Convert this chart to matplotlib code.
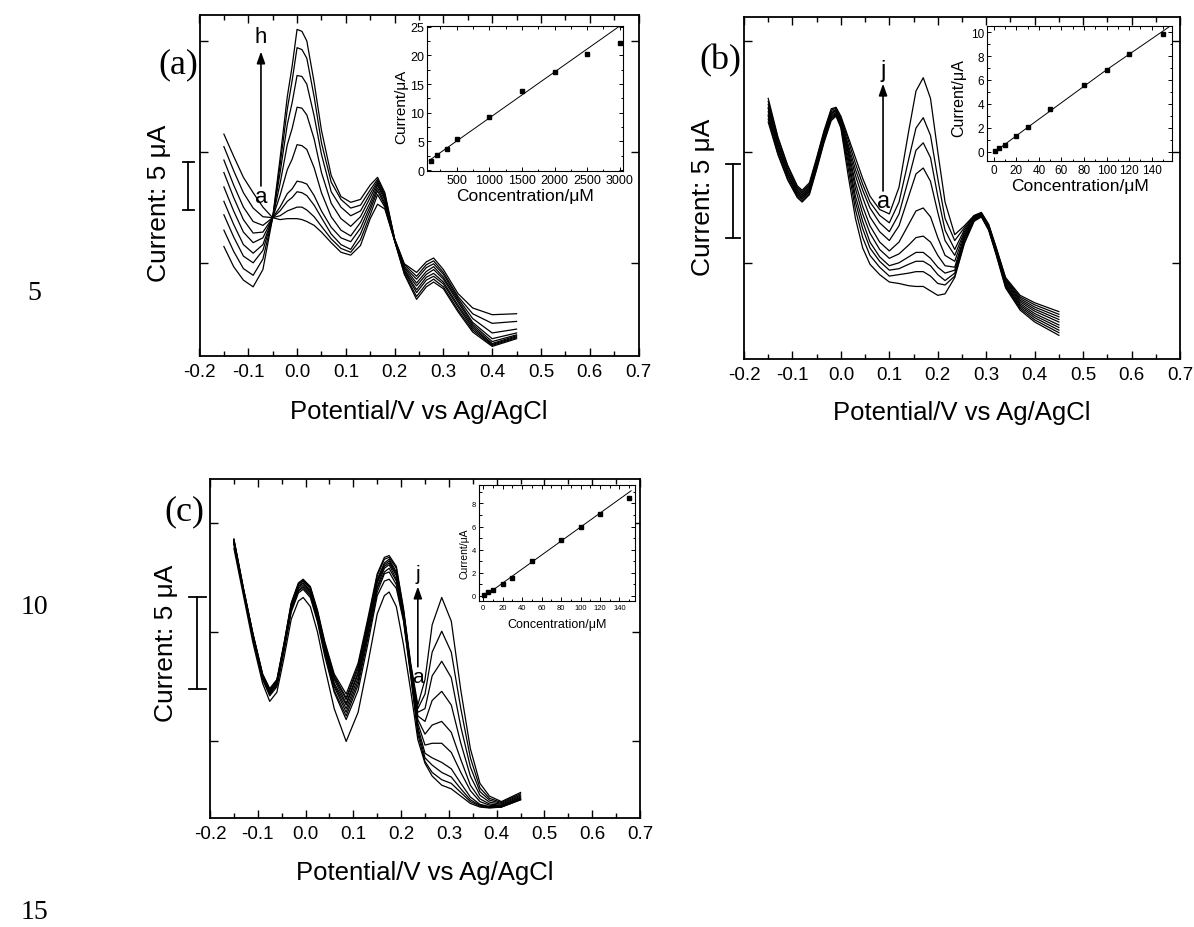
import numpy as np
import matplotlib.pyplot as plt
from matplotlib.ticker import MultipleLocator
from matplotlib.transforms import blended_transform_factory

plt.rcParams['font.family'] = ['Liberation Sans', 'DejaVu Sans']
plt.rcParams['axes.unicode_minus'] = False

W, H = 1194, 928

# ---------------- panel (a): DPV curves, current in uA ----------------
pot_a = [-0.15, -0.13, -0.11, -0.09, -0.07, -0.05, -0.035, -0.02, -0.01, 0.0, 0.01,
         0.02, 0.035, 0.05, 0.07, 0.09, 0.11, 0.13, 0.15, 0.165, 0.18,
         0.20, 0.22, 0.245, 0.265, 0.28, 0.30, 0.33, 0.36, 0.40, 0.45]
cur_a = [
    [23.1, 20.8, 18.6, 17.0, 15.5, 14.4, 14.2, 14.3, 14.3, 14.3, 14.2, 14.0, 13.6, 12.9, 11.8, 10.8,
     10.5, 11.5, 14.3, 15.8, 15.3, 12.0, 8.5, 5.9, 7.2, 7.7, 7.0, 4.6, 2.5, 1.0, 1.8],
    [21.8, 19.3, 17.0, 15.4, 14.5, 14.4, 14.6, 15.1, 15.3, 15.5, 15.5, 15.2, 14.5, 13.5, 12.2, 11.2,
     10.8, 12.1, 14.7, 16.8, 15.5, 12.0, 8.6, 6.2, 7.5, 8.0, 7.2, 4.8, 2.7, 1.1, 1.9],
    [20.4, 17.8, 15.5, 14.0, 13.6, 14.4, 15.1, 16.1, 16.5, 17.1, 17.0, 16.7, 15.7, 14.4, 12.7, 11.6,
     11.1, 12.7, 15.2, 17.2, 15.7, 12.0, 8.8, 6.6, 7.9, 8.3, 7.5, 5.1, 2.9, 1.2, 2.0],
    [19.1, 16.5, 14.2, 12.8, 12.9, 14.4, 15.5, 16.9, 17.4, 18.2, 18.1, 17.9, 16.7, 15.1, 13.4, 12.3,
     11.9, 13.3, 15.6, 17.5, 15.9, 12.1, 8.9, 6.9, 8.2, 8.6, 7.7, 5.3, 3.1, 1.3, 2.1],
    [17.6, 15.1, 12.9, 11.8, 12.3, 14.4, 16.7, 19.4, 20.5, 22.0, 21.9, 21.5, 19.6, 17.0, 14.5, 13.1,
     12.5, 13.9, 16.0, 17.8, 16.2, 12.1, 9.0, 7.3, 8.5, 9.0, 8.0, 5.6, 3.3, 1.5, 2.2],
    [16.1, 13.7, 11.6, 10.7, 11.6, 14.4, 17.9, 22.0, 23.7, 25.9, 25.8, 25.1, 22.6, 19.1, 15.9, 14.3,
     13.5, 14.5, 16.5, 18.0, 16.4, 12.1, 9.2, 7.6, 8.8, 9.3, 8.2, 5.8, 3.5, 1.8, 2.4],
    [14.7, 12.4, 10.4, 9.7, 11.0, 14.4, 19.0, 24.1, 26.4, 29.2, 29.1, 28.3, 25.0, 21.0, 17.1, 15.5,
     14.6, 15.1, 16.9, 18.2, 16.6, 12.1, 9.3, 8.0, 9.2, 9.6, 8.5, 6.0, 3.9, 2.4, 2.8],
    [13.1, 10.9, 9.1, 8.4, 10.1, 14.4, 19.8, 25.7, 28.7, 32.1, 31.9, 31.0, 27.0, 22.2, 18.1, 16.3,
     15.4, 15.7, 17.3, 18.4, 16.8, 12.2, 9.5, 8.3, 9.5, 9.9, 8.7, 6.2, 4.4, 3.4, 3.6],
    [11.4, 9.3, 7.9, 7.2, 9.0, 14.4, 20.5, 27.0, 30.2, 34.0, 33.8, 32.8, 28.5, 23.5, 18.8, 16.6,
     16.0, 16.3, 17.8, 18.6, 17.0, 12.2, 9.6, 8.7, 9.8, 10.2, 9.0, 6.5, 5.0, 4.3, 4.4],
]
conc_a = [100, 200, 350, 500, 1000, 1500, 2000, 2500, 3000]
ip_a = [1.6, 2.6, 3.6, 5.5, 9.3, 13.7, 17.1, 20.2, 22.1]
fit_a_x = [80, 3050]
fit_a_y = [1.7, 25.5]

# ---------------- panel (b) ----------------
pot_b = [-0.15, -0.13, -0.11, -0.09, -0.08, -0.065, -0.05, -0.035, -0.02, -0.01,
         0.0, 0.015, 0.03, 0.045, 0.06, 0.08, 0.10, 0.12, 0.14, 0.155,
         0.17, 0.185, 0.20, 0.215, 0.235, 0.255, 0.275, 0.29, 0.305, 0.32,
         0.34, 0.37, 0.40, 0.45]
cur_b = [
    [16.0, 13.8, 12.1, 10.9, 10.6, 11.1, 12.8, 14.6, 16.1, 16.4, 15.6, 12.4, 9.5, 7.5, 6.4, 5.7, 5.2,
     5.1, 4.95, 4.9, 4.9, 4.6, 4.3, 4.4, 5.5, 7.8, 9.3, 9.6, 8.7, 7.1, 4.8, 3.3, 2.5, 1.6],
    [16.2, 13.9, 12.2, 11.0, 10.7, 11.2, 12.9, 14.7, 16.2, 16.5, 15.7, 12.9, 10.1, 8.2, 7.0, 6.2, 5.6,
     5.7, 5.8, 5.9, 5.9, 5.6, 5.1, 5.0, 5.6, 7.9, 9.35, 9.63, 8.74, 7.16, 4.88, 3.41, 2.64, 1.78],
    [16.4, 14.1, 12.4, 11.1, 10.8, 11.3, 13.0, 14.8, 16.3, 16.5, 15.8, 13.3, 10.6, 8.8, 7.5, 6.6, 6.0,
     6.1, 6.4, 6.6, 6.6, 6.3, 5.7, 5.3, 5.8, 8.06, 9.39, 9.67, 8.79, 7.21, 4.95, 3.52, 2.79, 1.95],
    [16.5, 14.2, 12.4, 11.15, 10.85, 11.35, 13.05, 14.85, 16.35, 16.6, 15.9, 13.6, 11.0, 9.3, 7.9, 6.9, 6.3,
     6.5, 6.9, 7.2, 7.2, 6.8, 6.2, 5.8, 6.0, 8.2, 9.43, 9.7, 8.83, 7.27, 5.03, 3.63, 2.93, 2.13],
    [16.7, 14.3, 12.5, 11.25, 10.95, 11.45, 13.15, 14.95, 16.45, 16.65, 16.0, 13.9, 11.5, 9.8, 8.5, 7.4, 6.8,
     7.1, 7.7, 8.2, 8.3, 7.9, 7.0, 6.3, 6.2, 8.33, 9.48, 9.73, 8.88, 7.32, 5.11, 3.74, 3.07, 2.3],
    [16.9, 14.5, 12.7, 11.35, 11.05, 11.55, 13.25, 15.05, 16.55, 16.75, 16.0, 14.1, 11.9, 10.3, 9.0, 7.9, 7.3,
     7.9, 9.1, 10.0, 10.2, 9.6, 8.2, 7.0, 6.6, 8.47, 9.52, 9.77, 8.92, 7.38, 5.19, 3.86, 3.23, 2.5],
    [17.0, 14.6, 12.7, 11.4, 11.1, 11.6, 13.3, 15.1, 16.6, 16.8, 16.1, 14.3, 12.4, 10.9, 9.6, 8.6, 8.0,
     9.0, 11.0, 12.5, 12.9, 12.0, 9.9, 8.0, 7.0, 8.6, 9.57, 9.8, 8.97, 7.44, 5.27, 3.97, 3.37, 2.67],
    [17.2, 14.7, 12.8, 11.5, 11.2, 11.7, 13.4, 15.2, 16.7, 16.85, 16.2, 14.5, 12.8, 11.4, 10.2, 9.2, 8.6,
     9.8, 12.2, 14.1, 14.6, 13.6, 11.0, 8.7, 7.4, 8.74, 9.61, 9.83, 9.01, 7.49, 5.35, 4.08, 3.51, 2.85],
    [17.4, 14.9, 13.0, 11.6, 11.3, 11.8, 13.5, 15.3, 16.8, 16.95, 16.3, 14.8, 13.2, 11.8, 10.6, 9.7, 9.2,
     10.6, 13.5, 15.6, 16.3, 15.1, 12.2, 9.5, 8.0, 8.87, 9.66, 9.87, 9.06, 7.55, 5.42, 4.19, 3.66, 3.02],
    [17.6, 15.0, 13.1, 11.7, 11.4, 11.9, 13.6, 15.4, 16.9, 17.0, 16.4, 15.0, 13.6, 12.2, 11.0, 10.1, 9.8,
     11.6, 15.4, 18.1, 19.0, 17.6, 14.0, 10.6, 8.4, 9.0, 9.7, 9.9, 9.1, 7.6, 5.5, 4.3, 3.8, 3.2],
]
conc_b = [1, 5, 10, 20, 30, 50, 80, 100, 120, 150]
ip_b = [0.1, 0.3, 0.6, 1.3, 2.1, 3.6, 5.6, 6.8, 8.2, 9.8]
fit_b_x = [0, 30, 65, 100, 155]
fit_b_y = [-0.05, 2.05, 4.45, 6.85, 10.4]

# ---------------- panel (c) ----------------
pot_c = [-0.15, -0.13, -0.11, -0.09, -0.075, -0.06, -0.045, -0.03, -0.015, -0.005,
         0.01, 0.025, 0.04, 0.06, 0.085, 0.11, 0.13, 0.15, 0.165, 0.175,
         0.19, 0.205, 0.22, 0.235, 0.25, 0.265, 0.285, 0.305, 0.325, 0.345,
         0.365, 0.385, 0.41, 0.45]
cur_c = [
    [14.8, 12.2, 9.6, 7.4, 6.4, 6.9, 8.8, 10.9, 11.9, 12.1, 11.6, 10.2, 8.3, 6.0, 4.2, 5.8, 8.4,
     11.2, 12.2, 12.4, 11.6, 9.5, 7.0, 4.3, 3.0, 2.3, 1.8, 1.6, 1.2, 0.8, 0.6, 0.55, 0.6, 1.0],
    [15.0, 12.4, 9.8, 7.6, 6.7, 7.2, 9.2, 11.3, 12.35, 12.55, 12.1, 10.75, 8.9, 6.9, 5.4, 7.0, 9.5,
     12.2, 13.0, 13.1, 12.6, 10.8, 7.8, 4.6, 3.1, 2.5, 2.1, 1.9, 1.4, 0.9, 0.65, 0.57, 0.6, 1.0],
    [15.1, 12.4, 9.9, 7.7, 6.8, 7.3, 9.2, 11.4, 12.45, 12.65, 12.2, 10.9, 9.1, 7.0, 5.6, 7.3, 9.8,
     12.4, 13.4, 13.5, 12.8, 10.9, 7.9, 4.8, 3.3, 2.9, 2.5, 2.25, 1.6, 1.0, 0.7, 0.6, 0.62, 1.03],
    [15.1, 12.45, 9.9, 7.7, 6.8, 7.3, 9.3, 11.5, 12.5, 12.7, 12.3, 10.9, 9.2, 7.2, 5.8, 7.5, 10.0,
     12.6, 13.5, 13.7, 13.0, 11.0, 8.0, 5.0, 3.55, 3.3, 3.05, 2.7, 1.9, 1.15, 0.75, 0.63, 0.64, 1.05],
    [15.15, 12.5, 9.95, 7.75, 6.9, 7.4, 9.4, 11.5, 12.6, 12.8, 12.4, 11.0, 9.3, 7.3, 6.0, 7.7, 10.2,
     12.7, 13.7, 13.9, 13.1, 11.1, 8.1, 5.2, 4.0, 4.1, 4.1, 3.6, 2.5, 1.5, 0.9, 0.7, 0.67, 1.1],
    [15.2, 12.5, 10.0, 7.8, 6.9, 7.4, 9.4, 11.6, 12.7, 12.9, 12.4, 11.1, 9.4, 7.4, 6.2, 7.9, 10.3,
     12.9, 13.8, 14.0, 13.3, 11.2, 8.2, 5.4, 4.6, 5.1, 5.3, 4.7, 3.2, 1.8, 1.05, 0.77, 0.7, 1.14],
    [15.2, 12.5, 10.0, 7.8, 7.0, 7.5, 9.5, 11.6, 12.7, 12.9, 12.5, 11.2, 9.5, 7.6, 6.3, 8.0, 10.5,
     13.0, 13.9, 14.1, 13.4, 11.3, 8.3, 5.6, 5.3, 6.45, 6.95, 6.2, 4.1, 2.3, 1.25, 0.87, 0.75, 1.2],
    [15.25, 12.55, 10.05, 7.85, 7.0, 7.5, 9.5, 11.7, 12.8, 13.0, 12.6, 11.3, 9.5, 7.7, 6.5, 8.2, 10.6,
     13.1, 14.0, 14.2, 13.5, 11.3, 8.3, 5.8, 6.0, 7.8, 8.6, 7.7, 5.0, 2.8, 1.45, 0.98, 0.8, 1.26],
    [15.3, 12.6, 10.1, 7.9, 7.05, 7.55, 9.55, 11.75, 12.85, 13.05, 12.65, 11.3, 9.6, 7.8, 6.6, 8.35, 10.75,
     13.3, 14.2, 14.3, 13.7, 11.4, 8.4, 6.0, 6.8, 9.1, 10.25, 9.1, 6.0, 3.3, 1.65, 1.08, 0.85, 1.33],
    [15.3, 12.6, 10.1, 7.9, 7.1, 7.6, 9.6, 11.8, 12.9, 13.1, 12.7, 11.4, 9.7, 7.9, 6.8, 8.5, 10.9,
     13.4, 14.3, 14.4, 13.8, 11.5, 8.5, 6.2, 7.6, 10.6, 12.1, 10.8, 7.0, 3.8, 1.9, 1.2, 0.9, 1.4],
]
conc_c = [1, 5, 10, 20, 30, 50, 80, 100, 120, 150]
ip_c = [0.05, 0.3, 0.5, 1.0, 1.55, 3.0, 4.8, 6.0, 7.1, 8.5]
fit_c_x = [0, 152]
fit_c_y = [-0.1, 9.1]


fig = plt.figure(figsize=(W / 100, H / 100), dpi=100)


def box(l, t, r, b):
    # pixel box -> figure fraction
    return [l / W, 1 - b / H, (r - l) / W, (b - t) / H]


def main_panel(rect, pot, curves, ytop, yticks, xlab_y):
    ax = fig.add_axes(rect)
    for cur in curves:
        ax.plot(pot, cur, color='black', lw=0.9)
    ax.set_xlim(-0.2, 0.7)
    ax.set_ylim(0, ytop)
    ax.xaxis.set_major_locator(MultipleLocator(0.1))
    ax.xaxis.set_minor_locator(MultipleLocator(0.05))
    ax.set_yticks(yticks)
    ax.set_yticklabels([])
    ax.tick_params(which='both', direction='in', top=True, right=True, width=1.0)
    ax.tick_params(which='major', length=6, labelsize=13.5, pad=5)
    ax.tick_params(which='minor', length=3.5)
    for s in ax.spines.values():
        s.set_linewidth(1.3)
    ax.set_xlabel('Potential/V vs Ag/AgCl', fontsize=18.5, va='center')
    ax.xaxis.set_label_coords(0.5, xlab_y)
    return ax


def scale_bar(ax, xb, cap, y0, lab_x, lab_y):
    tr = blended_transform_factory(ax.transAxes, ax.transData)
    kw = dict(transform=tr, clip_on=False, color='black', lw=1.3)
    ax.plot([xb, xb], [y0, y0 + 5], **kw)
    ax.plot([xb - cap, xb + cap], [y0, y0], **kw)
    ax.plot([xb - cap, xb + cap], [y0 + 5, y0 + 5], **kw)
    ax.set_ylabel('Current: 5 μA', fontsize=19, va='center')
    ax.yaxis.set_label_coords(lab_x, lab_y)


def arrow(ax, x, y0, y1, top_lab, ty, ay, fs=16):
    ax.annotate('', xy=(x, y1), xytext=(x, y0),
                arrowprops=dict(arrowstyle='-|>,head_length=0.7,head_width=0.25',
                                color='black', lw=1.2, shrinkA=0, shrinkB=0),
                annotation_clip=False)
    ax.text(x, ty, top_lab, ha='center', va='center', fontsize=fs)
    ax.text(x + 0.001, ay, 'a', ha='center', va='center', fontsize=fs)


def inset(rect, conc, ip, fx, fy, xlim, ylim, xmaj, xmin, ymaj, ymin,
          tsize, xls, yls, xl_pos, yl_pos):
    ax = fig.add_axes(rect)
    ax.plot(fx, fy, color='black', lw=0.7)
    ax.plot(conc, ip, 's', color='black', ms=3)
    ax.set_xlim(*xlim)
    ax.set_ylim(*ylim)
    ax.xaxis.set_major_locator(MultipleLocator(xmaj))
    ax.xaxis.set_minor_locator(MultipleLocator(xmin))
    ax.yaxis.set_major_locator(MultipleLocator(ymaj))
    ax.yaxis.set_minor_locator(MultipleLocator(ymin))
    ax.tick_params(which='both', direction='in', top=True, right=True, width=0.7,
                   labelsize=tsize, pad=2)
    ax.tick_params(which='major', length=3)
    ax.tick_params(which='minor', length=1.8)
    for s in ax.spines.values():
        s.set_linewidth(0.8)
    ax.set_xlabel('Concentration/μM', fontsize=xls, va='center')
    ax.xaxis.set_label_coords(0.5, xl_pos)
    ax.set_ylabel('Current/μA', fontsize=yls, va='center')
    ax.yaxis.set_label_coords(yl_pos[0], yl_pos[1])
    return ax


# ---- (a)
ax_a = main_panel(box(199.5, 16, 638.5, 357), pot_a, cur_a, 35.5, [9.7, 21.25, 32.8], -0.161)
scale_bar(ax_a, -0.026, 0.0125, 15.2, -0.092, 0.45)
arrow(ax_a, -0.074, 17.7, 31.7, 'h', 33.3, 16.6)
inset(box(427, 27, 623, 172), conc_a, ip_a, fit_a_x, fit_a_y, (45, 3050), (-0.15, 25.1),
      500, 250, 5, 2.5, 9, 12.5, 11, -0.17, (-0.133, 0.45))

# ---- (b)
ax_b = main_panel(box(744, 18, 1180, 360), pot_b, cur_b, 23.1, [6.5, 14.0, 21.5], -0.155)
scale_bar(ax_b, -0.025, 0.016, 8.2, -0.094, 0.477)
arrow(ax_b, 0.087, 11.35, 18.6, 'j', 19.5, 10.7, fs=17)
inset(box(987, 27, 1172, 162), conc_b, ip_b, fit_b_x, fit_b_y, (-6, 158), (-0.75, 10.5),
      20, 10, 2, 1, 8.5, 12.5, 11.5, -0.182, (-0.151, 0.474))

# ---- (c)
ax_c = main_panel(box(210, 480, 640, 819), pot_c, cur_c, 18.6, [4.2, 10.2, 16.2], -0.159)
scale_bar(ax_c, -0.030, 0.02, 7.1, -0.102, 0.519)
arrow(ax_c, 0.235, 8.3, 12.7, 'j', 13.4, 7.75, fs=15)
inset(box(479, 486, 635, 602), conc_c, ip_c, fit_c_x, fit_c_y, (-4.4, 156), (-0.45, 9.6),
      20, 10, 2, 1, 5.5, 9, 7.5, -0.198, (-0.09, 0.42))

# panel letters and manuscript line numbers
serif = ['Liberation Serif', 'DejaVu Serif']
for lab, px, py in [('(a)', 178, 65), ('(b)', 720, 61), ('(c)', 184, 512)]:
    fig.text(px / W, 1 - py / H, lab, family=serif, fontsize=26, ha='center', va='center')
for lab, px, py in [('5', 34, 293), ('10', 34, 608), ('15', 34, 913)]:
    fig.text(px / W, 1 - py / H, lab, family=serif, fontsize=20, ha='center', va='center')

fig.savefig('out.png', dpi=100)
